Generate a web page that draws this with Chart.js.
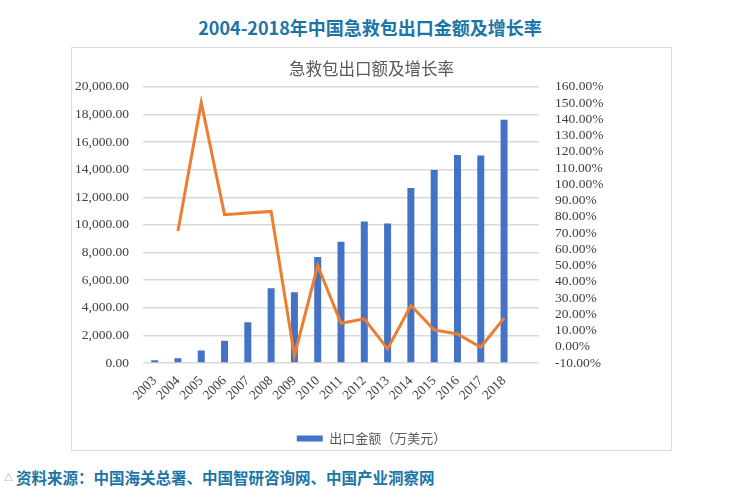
<!DOCTYPE html>
<html>
<head>
<meta charset="utf-8">
<script src="https://cdn.jsdelivr.net/npm/chart.js@4/dist/chart.umd.min.js"></script>
<style>
  body { margin: 0; background: #fff; width: 735px; height: 501px; position: relative; overflow: hidden; }
  #title { position: absolute; left: 0; width: 740px; top: 14px; text-align: center; font: bold 18px "Noto Sans CJK SC", sans-serif; color: #1b75a6; }
  #box { position: absolute; left: 71px; top: 47px; width: 599px; height: 402px; border: 1px solid #dcdcdc; }
  #chart { position: absolute; left: 0; top: 0; }
  #source { position: absolute; left: 4px; top: 466px; font: bold 15.5px "Noto Sans CJK SC", sans-serif; color: #1b75a6; }
  #source span { font-size: 9px; color: #7a8a99; font-weight: normal; vertical-align: 3px; margin-right: 3px; }
</style>
</head>
<body>
<div id="title">2004-2018年中国急救包出口金额及增长率</div>
<div id="box"><canvas id="chart" width="599" height="407"></canvas></div>
<div id="source"><span>△</span>资料来源：中国海关总署、中国智研咨询网、中国产业洞察网</div>
<script>
"use strict";

// years (last slot is an empty category, as in the original)
const years = ["2003", "2004", "2005", "2006", "2007", "2008", "2009", "2010",
  "2011", "2012", "2013", "2014", "2015", "2016", "2017", "2018", ""];

// export value, 10k USD
const exportValue = [200, 340, 900, 1620, 2950, 5420, 5130, 7670,
  8780, 10250, 10110, 12670, 13980, 15070, 15020, 17610, null];

// growth rate, %
const growthRate = [null, 71.2, 150.3, 81.3, 82.3, 83.3, -5.5, 50.0,
  14.5, 17.2, -1.3, 25.4, 10.4, 7.9, -0.3, 17.6, null];

const leftTicks = { min: 0, max: 20000, step: 2000 };
const rightTicks = { min: -10, max: 160, step: 10 };

const tickFont = { family: "Liberation Serif", size: 13.5 };
const cnFont = "Noto Sans CJK SC";

let canvasElem = document.getElementById("chart");

const data = {
  labels: years,
  datasets: [
    {
      type: "line",
      label: "增长率",
      data: growthRate,
      yAxisID: "y1",
      borderColor: "#ed7d31",
      backgroundColor: "#ed7d31",
      borderWidth: 3,
      pointRadius: 0,
      tension: 0,
      order: 0,
    },
    {
      type: "bar",
      label: "出口金额（万美元）",
      data: exportValue,
      yAxisID: "y",
      backgroundColor: "#4472c4",
      categoryPercentage: 1,
      barPercentage: 0.3,
      order: 1,
    },
  ],
};

const config = {
  type: "bar",
  data: data,
  options: {
    responsive: false,
    animation: false,
    layout: { padding: 0 },
    plugins: {
      title: {
        display: true,
        text: "急救包出口额及增长率",
        color: "#595959",
        font: { family: cnFont, size: 16.5, weight: "normal" },
        padding: { top: 11, bottom: 8 },
      },
      legend: {
        position: "bottom",
        labels: {
          filter: (item) => item.datasetIndex === 1,
          boxWidth: 26,
          boxHeight: 6,
          padding: 4,
          color: "#595959",
          font: { family: cnFont, size: 13 },
        },
      },
      tooltip: { enabled: false },
    },
    scales: {
      x: {
        grid: { display: false },
        border: { display: false },
        ticks: {
          minRotation: 45,
          maxRotation: 45,
          autoSkip: false,
          color: "#404040",
          font: tickFont,
          padding: 2,
        },
        afterFit: (scale) => { scale.height = 65; },
      },
      y: {
        position: "left",
        min: leftTicks.min,
        max: leftTicks.max,
        ticks: {
          stepSize: leftTicks.step,
          autoSkip: false,
          color: "#404040",
          font: tickFont,
          padding: 14,
          callback: (v) => v.toLocaleString("en-US", { minimumFractionDigits: 2, maximumFractionDigits: 2 }),
        },
        grid: { color: "#d9d9d9", lineWidth: 1.5, drawTicks: false },
        border: { display: false },
        afterFit: (scale) => { scale.width = 71; },
      },
      y1: {
        position: "right",
        min: rightTicks.min,
        max: rightTicks.max,
        ticks: {
          stepSize: rightTicks.step,
          autoSkip: false,
          color: "#404040",
          font: tickFont,
          padding: 16,
          callback: (v) => v.toFixed(2) + "%",
        },
        grid: { display: false, drawTicks: false },
        border: { display: false },
        afterFit: (scale) => { scale.width = 132; },
      },
    },
  },
};

const newChart = new Chart(canvasElem, config);
</script>
</body>
</html>
